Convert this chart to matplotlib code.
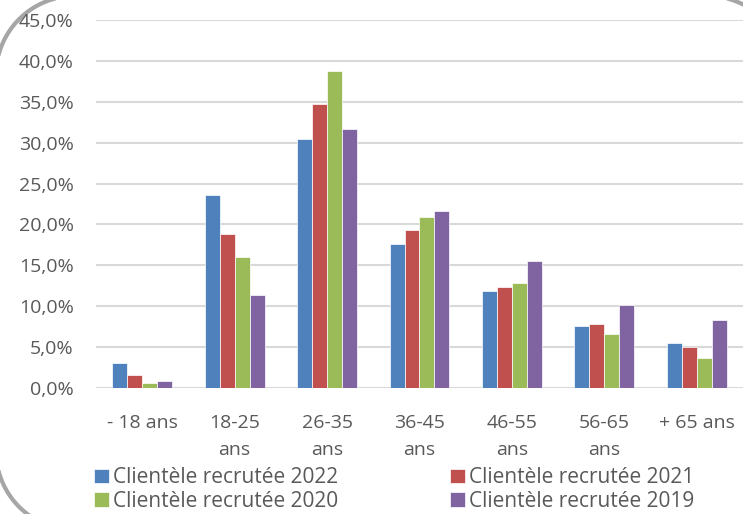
import numpy as np
import matplotlib
matplotlib.use("Agg")
from matplotlib import pyplot as plt
from matplotlib.ticker import FuncFormatter

# age groups and share of recruited clients per year (%)
categories = ["- 18 ans", "18-25\nans", "26-35\nans", "36-45\nans", "46-55\nans", "56-65\nans", "+ 65 ans"]
series_names = ["Clientèle recrutée 2022", "Clientèle recrutée 2021",
                "Clientèle recrutée 2020", "Clientèle recrutée 2019"]
v2022 = [3.0, 23.6, 30.5, 17.6, 11.9, 7.6, 5.5]
v2021 = [1.6, 18.8, 34.7, 19.3, 12.3, 7.8, 5.0]
v2020 = [0.65, 16.0, 38.8, 20.9, 12.9, 6.6, 3.7]
v2019 = [0.85, 11.4, 31.7, 21.7, 15.5, 10.2, 8.3]
colors = ["#4F81BD", "#C0504D", "#9BBB59", "#8064A2"]

plt.rcParams['font.family'] = ['Open Sans', 'DejaVu Sans']
txt = "#595959"
fs = 14

W, H = 743, 514
fig = plt.figure(figsize=(W / 100, H / 100), dpi=100)
ax = fig.add_axes([96 / W, (H - 388) / H, (W - 96) / W, 368 / H])

x = np.arange(len(categories))
bw = 0.162
bars = []
for i, (vals, name) in enumerate(zip([v2022, v2021, v2020, v2019], series_names)):
    b = ax.bar(x + (i - 1.5) * bw, vals, bw, color=colors[i], label=name,
               edgecolor="white", linewidth=0.5, zorder=3)
    bars.append(b)

ax.set_xlim(-0.5, len(categories) - 0.5)
ax.set_ylim(0, 45)
ax.set_yticks(np.arange(0, 46, 5))
ax.yaxis.set_major_formatter(FuncFormatter(lambda v, p: ("%.1f%%" % v).replace(".", ",")))
ax.grid(axis="y", color="#D9D9D9", linewidth=1.5, zorder=0)
for s in ["top", "right", "left", "bottom"]:
    ax.spines[s].set_visible(False)
ax.tick_params(axis="y", length=0, pad=16, labelsize=fs, labelcolor=txt)
ax.set_xticks(x)
ax.set_xticklabels(categories, linespacing=1.6, va="top")
ax.tick_params(axis="x", length=0, pad=19, labelsize=fs, labelcolor=txt)

# row-major order like the original legend
order = [0, 2, 1, 3]
ax.legend([bars[i] for i in order], [series_names[i] for i in order],
          loc="upper left", bbox_to_anchor=(-0.003, -0.215), ncol=2, frameon=False,
          fontsize=15, labelcolor=txt, handlelength=0.7, handleheight=0.7,
          handletextpad=0.2, columnspacing=5.4, labelspacing=0.12,
          borderaxespad=0, borderpad=0)

# rounded chart border, mostly outside the image (pixel coords, y down)
bg = fig.add_axes([0, 0, 1, 1], zorder=-1)
bg.set_xlim(0, W)
bg.set_ylim(H, 0)
bg.axis("off")
r = 79
x0, x1, y0, y1 = -4, 786.5, -4, 530
pts = []
for cx, cy, a0 in [(x1 - r, y0 + r, -90), (x1 - r, y1 - r, 0), (x0 + r, y1 - r, 90), (x0 + r, y0 + r, 180)]:
    t = np.radians(np.linspace(a0, a0 + 90, 40))
    pts.append(np.column_stack([cx + r * np.cos(t), cy + r * np.sin(t)]))
pts = np.vstack(pts + [pts[0][:1]])
bg.plot(pts[:, 0], pts[:, 1], color="#A6A6A6", linewidth=3, clip_on=False)

fig.savefig("out.png", dpi=100)
